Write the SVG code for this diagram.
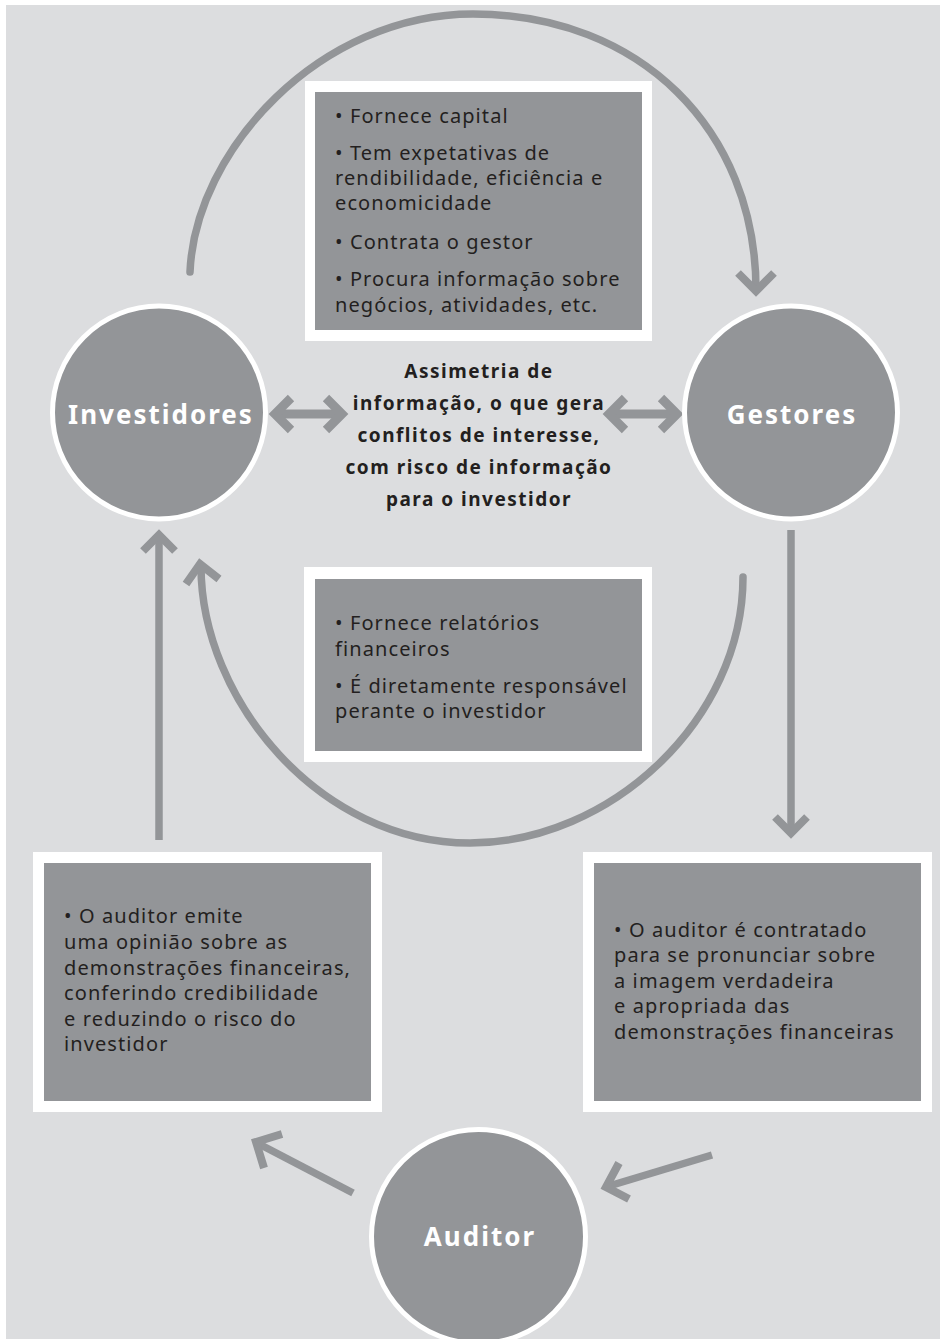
<svg xmlns="http://www.w3.org/2000/svg" width="940" height="1339" viewBox="0 0 940 1339">
<style>
.bg{fill:#dcdddf}
.frame{fill:#ffffff}
.panel{fill:#939598}
.node{fill:#939598;stroke:#ffffff;stroke-width:5}
.lbl{font-family:"Noto Sans","DejaVu Sans",sans-serif;font-weight:700;font-size:26px;letter-spacing:2px;fill:#ffffff;text-anchor:middle}
.txt{font-family:"Noto Sans","DejaVu Sans",sans-serif;font-size:20px;letter-spacing:1.1px;fill:#231f20}
.mid{font-family:"Noto Sans","DejaVu Sans",sans-serif;font-weight:700;font-size:19px;letter-spacing:1.5px;fill:#231f20;text-anchor:middle}
.ln{fill:none;stroke:#939598;stroke-width:7.5}
.rd{stroke-linecap:round}
.hd{fill:none;stroke:#939598;stroke-width:8;stroke-linejoin:miter;stroke-linecap:butt}
.thick{fill:none;stroke:#939598;stroke-width:9;stroke-linejoin:miter}
</style>
<rect class="bg" x="6" y="5" width="934" height="1334"/>

<g id="box-investidor">
<rect class="frame" x="305" y="81" width="347" height="260"/>
<rect class="panel" x="315" y="92" width="327" height="238"/>
<text class="txt" x="335" y="123">• Fornece capital</text>
<text class="txt" x="335" y="160">• Tem expetativas de</text>
<text class="txt" x="335" y="185">rendibilidade, eficiência e</text>
<text class="txt" x="335" y="210">economicidade</text>
<text class="txt" x="335" y="249">• Contrata o gestor</text>
<text class="txt" x="335" y="286">• Procura informação sobre</text>
<text class="txt" x="335" y="312">negócios, atividades, etc.</text>
</g>

<g id="box-gestor">
<rect class="frame" x="304" y="567" width="348" height="195"/>
<rect class="panel" x="315" y="579" width="327" height="172"/>
<text class="txt" x="335" y="630">• Fornece relatórios</text>
<text class="txt" x="335" y="656">financeiros</text>
<text class="txt" x="335" y="693">• É diretamente responsável</text>
<text class="txt" x="335" y="718">perante o investidor</text>
</g>

<g id="box-auditor-left">
<rect class="frame" x="33" y="852" width="349" height="260"/>
<rect class="panel" x="44" y="863" width="327" height="238"/>
<text class="txt" x="64" y="923">• O auditor emite</text>
<text class="txt" x="64" y="949">uma opinião sobre as</text>
<text class="txt" x="64" y="975">demonstrações financeiras,</text>
<text class="txt" x="64" y="1000">conferindo credibilidade</text>
<text class="txt" x="64" y="1026">e reduzindo o risco do</text>
<text class="txt" x="64" y="1051">investidor</text>
</g>

<g id="box-auditor-right">
<rect class="frame" x="583" y="852" width="349" height="260"/>
<rect class="panel" x="594" y="863" width="327" height="238"/>
<text class="txt" x="614" y="937">• O auditor é contratado</text>
<text class="txt" x="614" y="962">para se pronunciar sobre</text>
<text class="txt" x="614" y="988">a imagem verdadeira</text>
<text class="txt" x="614" y="1013">e apropriada das</text>
<text class="txt" x="614" y="1039">demonstrações financeiras</text>
</g>

<g id="assimetria">
<text class="mid" x="479" y="378">Assimetria de</text>
<text class="mid" x="479" y="410">informação, o que gera</text>
<text class="mid" x="479" y="442">conflitos de interesse,</text>
<text class="mid" x="479" y="474">com risco de informação</text>
<text class="mid" x="479" y="506">para o investidor</text>
</g>

<g id="connectors">
<path class="ln rd" d="M190,272 C195,150 320,14 473,14 C640,14 756,130 756,290"/>
<polyline class="hd" points="738,273 756,291 774,273"/>
<path class="ln rd" d="M743,577 C743,720 610,843 470,843 C320,843 201,700 201,566"/>
<polyline class="hd" points="186,584 200,564 219,579"/>
<line class="thick" x1="280" y1="414" x2="337" y2="414"/>
<polyline class="thick" points="291,398 275,414 291,430"/>
<polyline class="thick" points="326,398 342,414 326,430"/>
<line class="thick" x1="614" y1="414" x2="672" y2="414"/>
<polyline class="thick" points="625,398 609,414 625,430"/>
<polyline class="thick" points="661,398 677,414 661,430"/>
<line class="ln" x1="791" y1="530" x2="791" y2="834"/>
<polyline class="hd" points="775,817 791,833 807,817"/>
<line class="ln" x1="159" y1="840" x2="159" y2="536"/>
<polyline class="hd" points="143,551 159,535 175,551"/>
<line class="ln" x1="353" y1="1193" x2="259" y2="1144"/>
<polyline class="hd" points="264,1168 256,1142 282,1134"/>
<line class="ln" x1="712" y1="1155" x2="609" y2="1186"/>
<polyline class="hd" points="619,1163 606,1187 629,1199"/>
</g>

<g id="node-investidores">
<circle class="node" cx="159" cy="412.5" r="106.5"/>
<text class="lbl" x="161" y="424">Investidores</text>
</g>
<g id="node-gestores">
<circle class="node" cx="791" cy="412.5" r="106.5"/>
<text class="lbl" x="792" y="424">Gestores</text>
</g>
<g id="node-auditor">
<circle class="node" cx="478.5" cy="1236.5" r="107"/>
<text class="lbl" x="480" y="1246">Auditor</text>
</g>
</svg>
